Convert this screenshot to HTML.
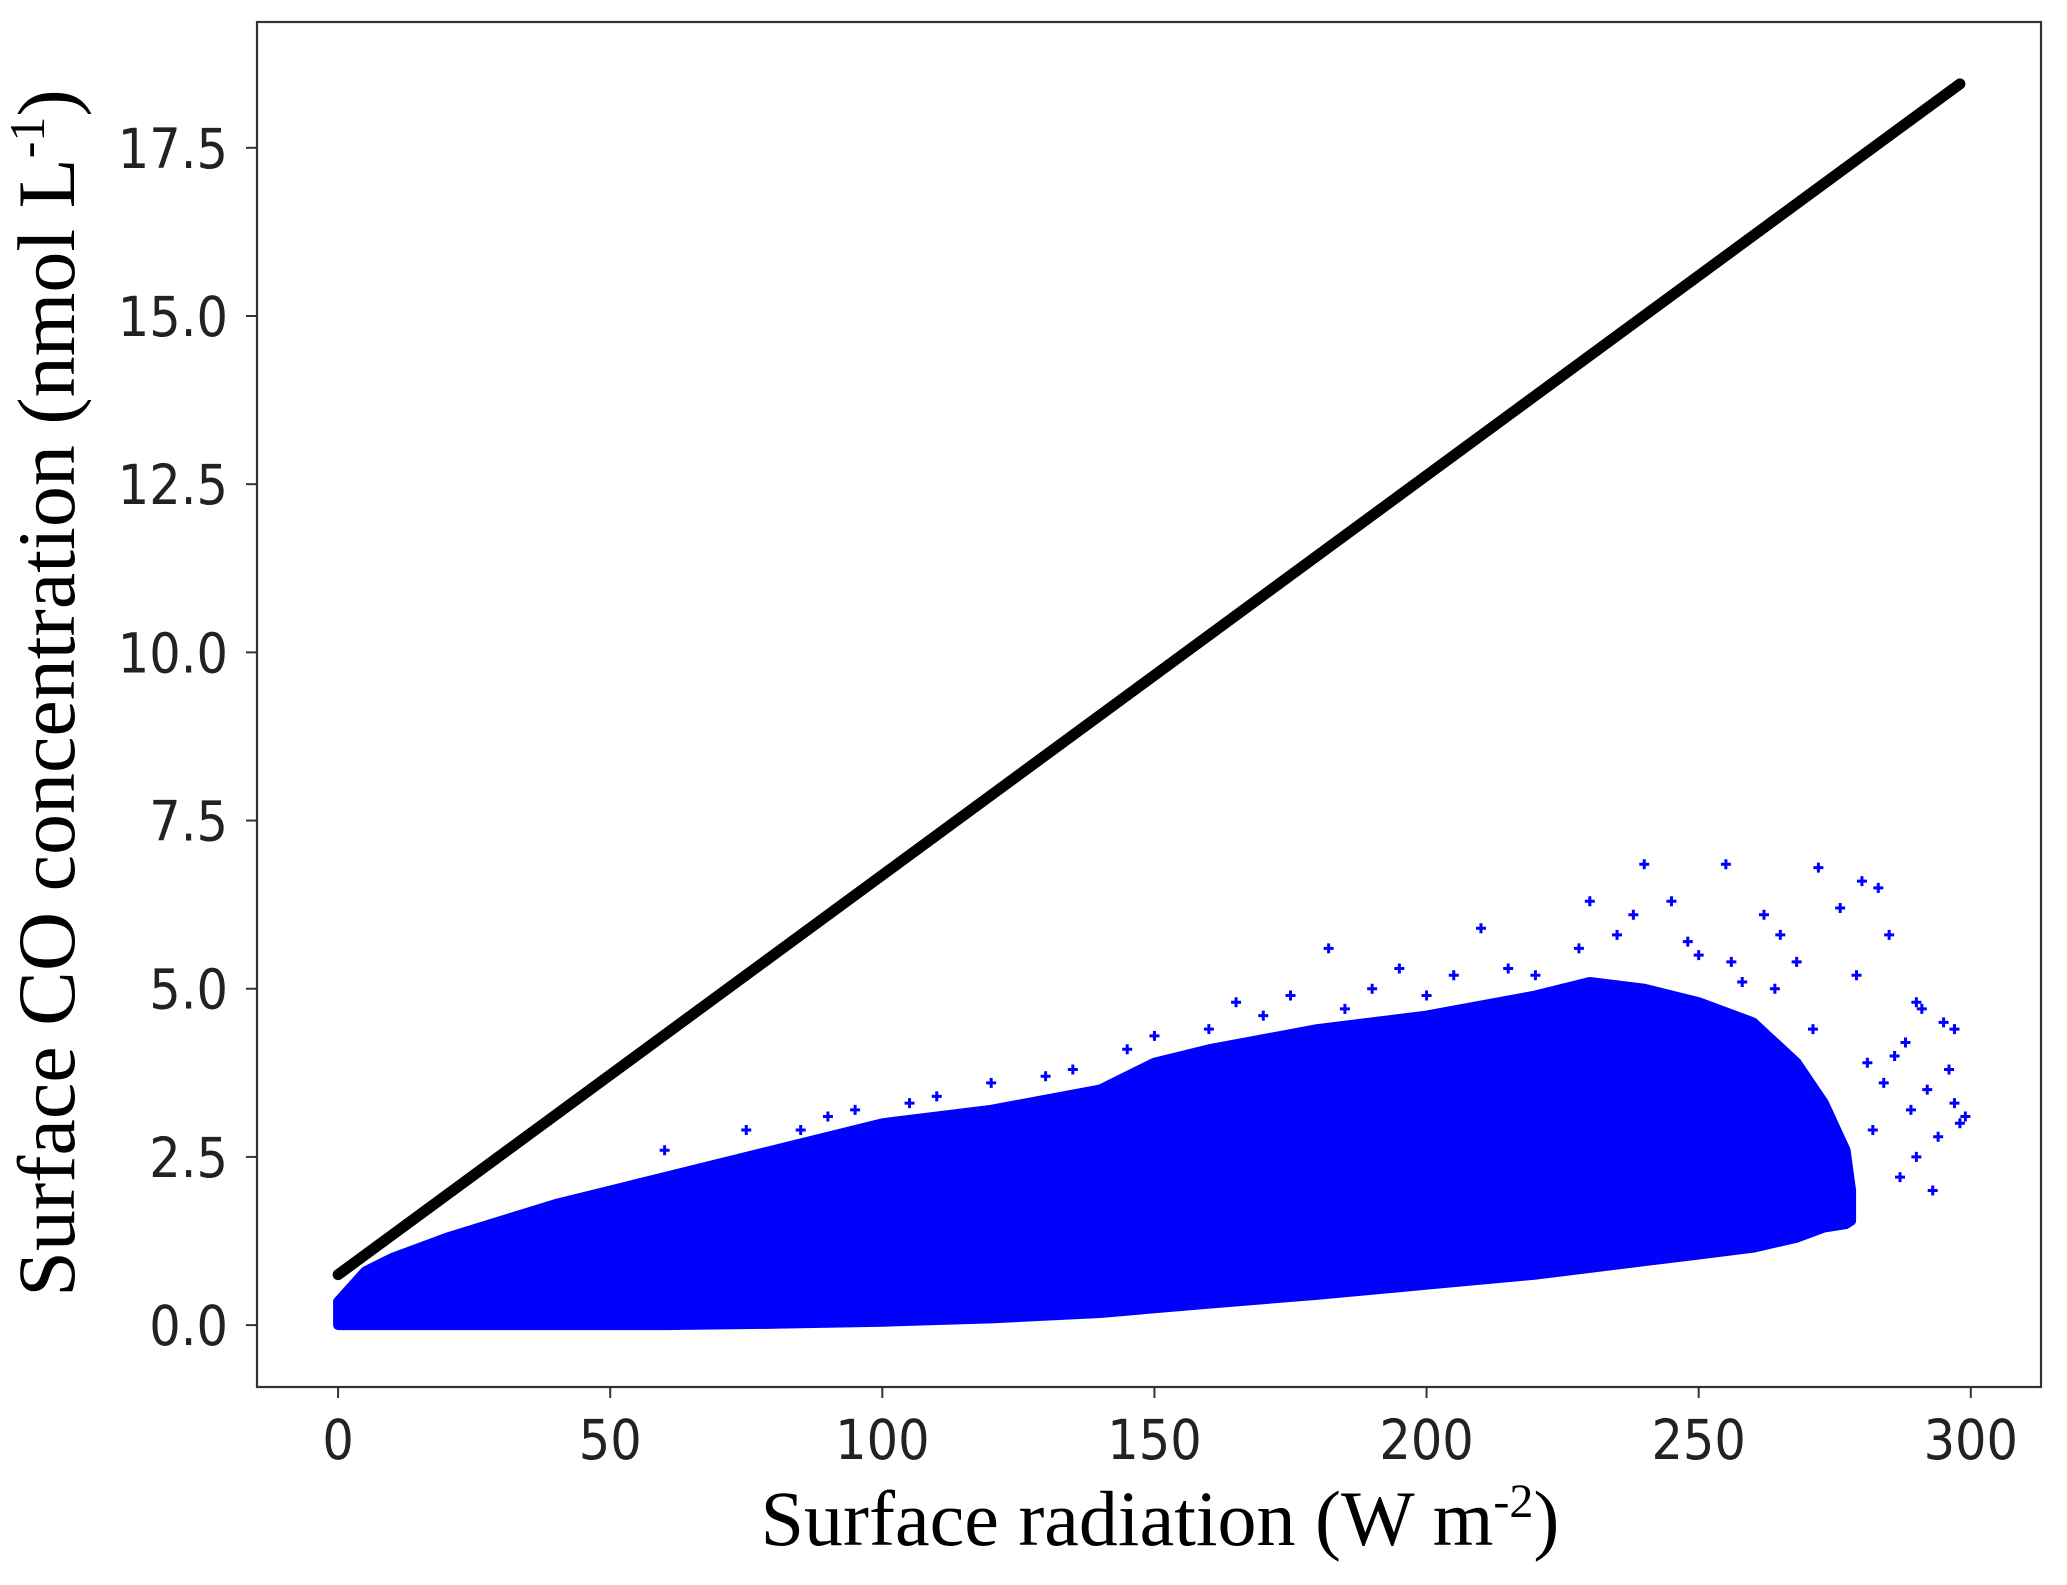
<!DOCTYPE html>
<html><head><meta charset="utf-8"><style>
html,body{margin:0;padding:0;background:#fff;}
svg{display:block;}
</style></head><body>
<svg id="chart" width="2067" height="1585" xmlns="http://www.w3.org/2000/svg">
<rect x="0" y="0" width="2067" height="1585" fill="#fff"/>
<g id="plot"></g>
<g id="axes"></g>
<text x="1160" y="1545" text-anchor="middle" font-family="Liberation Serif, serif" font-size="78" fill="#000">Surface radiation (W m<tspan dy="-28" font-size="48">-2</tspan><tspan dy="28">)</tspan></text>
<text transform="translate(74,693) rotate(-90)" text-anchor="middle" font-family="Liberation Serif, serif" font-size="82" fill="#000">Surface CO concentration (nmol L<tspan dy="-30" font-size="50">-1</tspan><tspan dy="30">)</tspan></text>
</svg>
<script>
const xTicks = [0, 50, 100, 150, 200, 250, 300];
const yTicks = [0, 2.5, 5, 7.5, 10, 12.5, 15, 17.5];
const yTickLabels = ["0.0","2.5","5.0","7.5","10.0","12.5","15.0","17.5"];
const lineX = [0, 298];
const lineY = [0.75, 18.45];
const envX =     [0, 5, 10, 20, 30, 40, 50, 60, 80, 100, 120, 140, 150, 160, 180, 200, 220, 230, 240, 250, 260, 268, 273, 277, 278];
const envUpper = [0.35,0.8,1.0,1.3,1.55,1.8,2.0,2.2,2.6,3.0,3.2,3.5,3.9,4.1,4.4,4.6,4.9,5.1,5.0,4.8,4.5,3.9,3.3,2.6,2.0];
const envLower = [0, 0, 0, 0, 0, 0, 0, 0, 0.02,0.05,0.1,0.18,0.25,0.32,0.45,0.6,0.75,0.85,0.95,1.05,1.15,1.3,1.45,1.5,1.55];
const outX = [240,255,272,280,285,290,295,298,290,230,245,182,195,210,165,225,265,292,288,296,294,262,268,276,283,286,291,297,289,279,271,250,205,175,150,120,95,235,258,281,287,293,284,274,299,297,282,60,75,90,110,130,145,170,190,215,228,238,248,256,264,85,105,135,160,185,200,220];
const outY = [6.85,6.85,6.8,6.6,5.8,4.8,4.5,3.0,2.5,6.3,6.3,5.6,5.3,5.9,4.8,5.0,5.8,3.5,4.2,3.8,2.8,6.1,5.4,6.2,6.5,4.0,4.7,3.3,3.2,5.2,4.4,5.5,5.2,4.9,4.3,3.6,3.2,5.8,5.1,3.9,2.2,2.0,3.6,2.6,3.1,4.4,2.9,2.6,2.9,3.1,3.4,3.7,4.1,4.6,5.0,5.3,5.6,6.1,5.7,5.4,5.0,2.9,3.3,3.8,4.4,4.7,4.9,5.2];

const L=257,R=2041,T=22,B=1387;
const x0=-14.9,x1=312.9,y0=-0.92,y1=19.37;
function sx(v){return L+(v-x0)/(x1-x0)*(R-L);}
function sy(v){return B-(v-y0)/(y1-y0)*(B-T);}
const NS='http://www.w3.org/2000/svg';
function mk(tag,attrs,parent){const e=document.createElementNS(NS,tag);for(const k in attrs)e.setAttribute(k,attrs[k]);parent.appendChild(e);return e;}
const plot=document.getElementById('plot'), axes=document.getElementById('axes');

let d='';
for(let i=0;i<envX.length;i++){d+=(i?'L':'M')+sx(envX[i]).toFixed(1)+','+sy(envUpper[i]).toFixed(1);}
for(let i=envX.length-1;i>=0;i--){d+='L'+sx(envX[i]).toFixed(1)+','+sy(envLower[i]).toFixed(1);}
d+='Z';
const cloud=mk('path',{d:d,fill:'#0000ff',stroke:'#0000ff','stroke-width':10,'stroke-linejoin':'round'},plot);


for(let i=0;i<outX.length;i++){
  const cx=sx(outX[i]),cy=sy(outY[i]);
  const p=mk('path',{d:`M${cx-5},${cy}L${cx+5},${cy}M${cx},${cy-5}L${cx},${cy+5}`,stroke:'#0000ff','stroke-width':3},plot);
  
  
}
const ln=mk('line',{x1:sx(lineX[0]),y1:sy(lineY[0]),x2:sx(lineX[1]),y2:sy(lineY[1]),stroke:'#000','stroke-width':11,'stroke-linecap':'round'},plot);



const fr=mk('rect',{x:L,y:T,width:R-L,height:B-T,fill:'none',stroke:'#333','stroke-width':2.2},axes);


xTicks.forEach(v=>{
  const x=sx(v);
  const t=mk('line',{x1:x,y1:B,x2:x,y2:B+11,stroke:'#333','stroke-width':2},axes);
  
  
  const lb=mk('text',{x:0,y:0,transform:`translate(${x},1459) scale(0.9,1)`,'text-anchor':'middle','font-family':'DejaVu Sans, sans-serif','font-size':55,fill:'#222'},axes);
  lb.textContent=String(v);
  
  
});
yTicks.forEach((v,i)=>{
  const y=sy(v);
  const t=mk('line',{x1:L-11,y1:y,x2:L,y2:y,stroke:'#333','stroke-width':2},axes);
  
  
  const lb=mk('text',{x:0,y:0,transform:`translate(228,${y+20}) scale(0.9,1)`,'text-anchor':'end','font-family':'DejaVu Sans, sans-serif','font-size':55,fill:'#222'},axes);
  lb.textContent=yTickLabels[i];
  
  
});
</script>
</body></html>
